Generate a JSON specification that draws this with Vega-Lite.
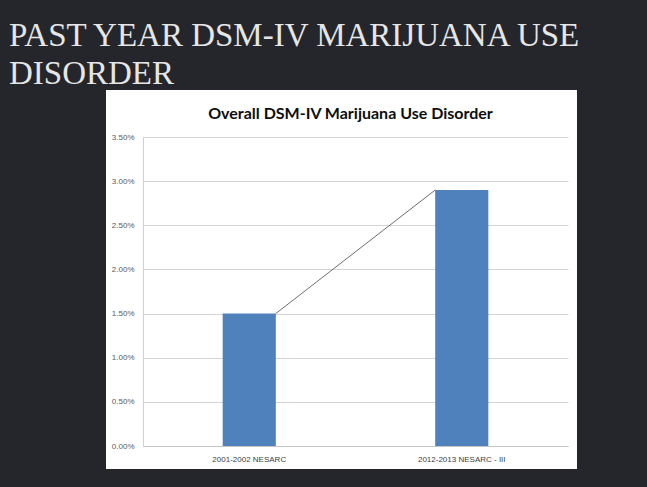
{
  "$schema": "https://vega.github.io/schema/vega-lite/v6.json",
  "width": 471,
  "height": 379,
  "autosize": {"type": "none"},
  "padding": {"left": 106, "top": 90, "right": 70, "bottom": 18},
  "background": "#25262b",
  "view": {"fill": "white", "stroke": null},
  "title": {
    "text": ["PAST YEAR DSM-IV MARIJUANA USE", "DISORDER"],
    "anchor": "start",
    "frame": "group",
    "dx": -97,
    "offset": -1,
    "font": "Liberation Serif",
    "fontSize": 33,
    "fontWeight": "normal",
    "color": "#e6e6e6",
    "lineHeight": 38
  },
  "data": {
    "values": [
      {"period": "2001-2002 NESARC", "value": 0.015},
      {"period": "2012-2013 NESARC - III", "value": 0.029}
    ]
  },
  "layer": [
    {
      "mark": {"type": "bar", "color": "#4f81bd"},
      "encoding": {
        "x": {
          "field": "period",
          "type": "nominal",
          "sort": null,
          "scale": {"range": [37, 462], "paddingInner": 0.75, "paddingOuter": 0.375},
          "axis": {
            "title": null,
            "orient": "bottom",
            "offset": -23,
            "labelAngle": 0,
            "labelFont": "Liberation Sans",
            "labelFontSize": 8,
            "labelColor": "#404040",
            "labelPadding": 9,
            "ticks": false,
            "grid": false,
            "domainColor": "#c4c4c4"
          }
        },
        "y": {
          "field": "value",
          "type": "quantitative",
          "scale": {"domain": [0, 0.035], "range": [356, 47], "nice": false},
          "axis": {
            "title": "Overall DSM-IV Marijuana Use Disorder",
            "titleAngle": 0,
            "titleX": 207,
            "titleY": 28,
            "titleAlign": "center",
            "titleBaseline": "alphabetic",
            "titleFont": "Lato",
            "titleFontSize": 16,
            "titleFontWeight": "bold",
            "titleColor": "#0d0d0d",
            "offset": -37,
            "values": [0, 0.005, 0.01, 0.015, 0.02, 0.025, 0.03, 0.035],
            "format": ".2%",
            "labelFont": "Liberation Sans",
            "labelFontSize": 8,
            "labelColor": "#595959",
            "labelPadding": 9,
            "ticks": false,
            "grid": true,
            "gridColor": "#d4d4d4",
            "domainColor": "#d0d0d0"
          }
        }
      }
    },
    {
      "transform": [
        {"window": [
          {"op": "lead", "field": "value", "as": "next_value"},
          {"op": "lead", "field": "period", "as": "next_period"}
        ]},
        {"filter": "datum.next_period != null"}
      ],
      "mark": {"type": "rule", "color": "#6e6e6e", "strokeWidth": 1, "xOffset": 26.5, "x2Offset": -26.5},
      "encoding": {
        "x": {"field": "period", "type": "nominal", "sort": null},
        "x2": {"field": "next_period"},
        "y": {"field": "value", "type": "quantitative"},
        "y2": {"field": "next_value"}
      }
    }
  ]
}
